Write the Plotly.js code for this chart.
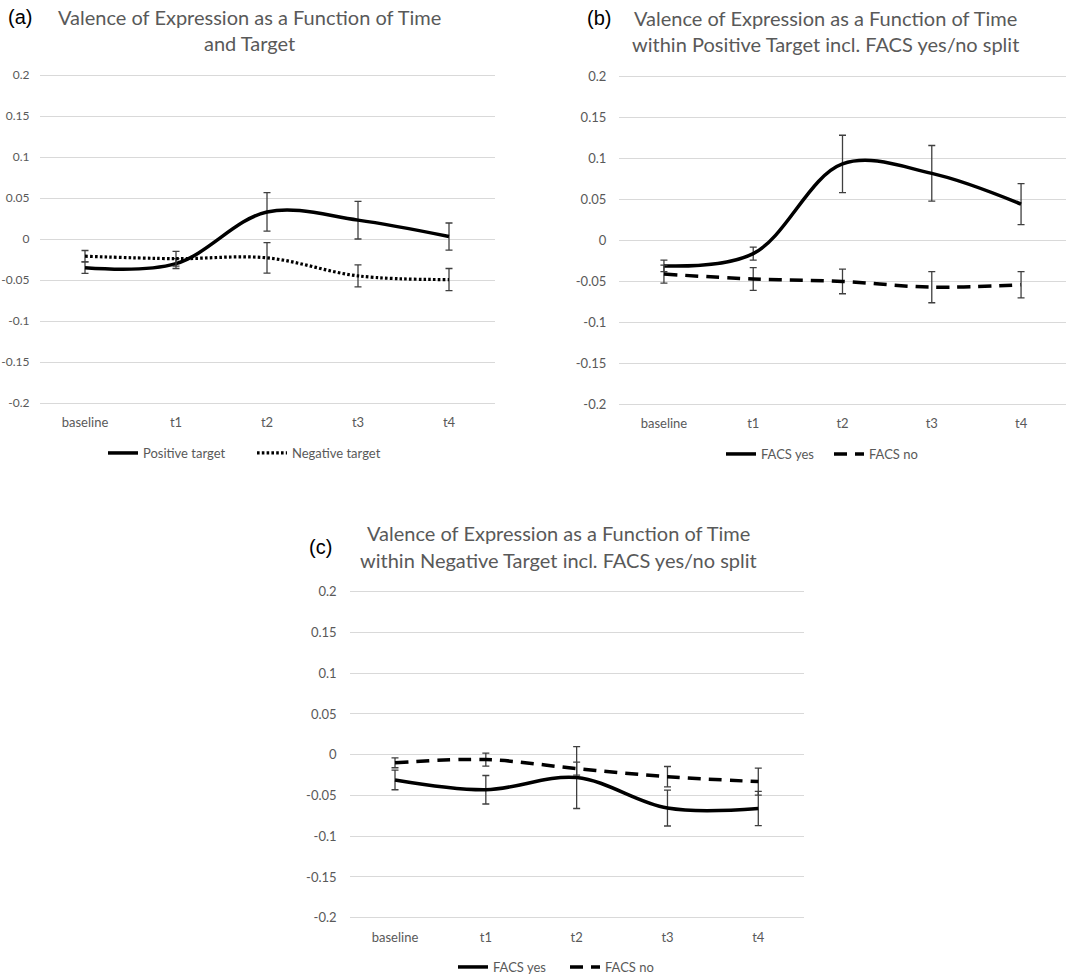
<!DOCTYPE html>
<html>
<head>
<meta charset="utf-8">
<script src="https://cdn.plot.ly/plotly-3.0.1.min.js"></script>
<style>
  html, body { margin: 0; padding: 0; background: #ffffff; }
  #chart { width: 1072px; height: 975px; }
</style>
</head>
<body>
<div id="chart"></div>
<script>
// ---------- data ----------
const categories = ['baseline', 't1', 't2', 't3', 't4'];
const yTickVals = [-0.2, -0.15, -0.1, -0.05, 0, 0.05, 0.1, 0.15, 0.2];
const yTickText = ['-0.2', '-0.15', '-0.1', '-0.05', '0', '0.05', '0.1', '0.15', '0.2'];

// (a) Valence by time and target
const positiveTarget    = [-0.035, -0.030, 0.033, 0.023, 0.003];
const positiveTargetErr = [0.007, 0.006, 0.0235, 0.023, 0.0165];
const negativeTarget    = [-0.021, -0.024, -0.023, -0.045, -0.0495];
const negativeTargetErr = [0.007, 0.009, 0.0185, 0.0135, 0.0135];

// (b) within positive target, FACS split
const posFacsYes    = [-0.031, -0.016, 0.0935, 0.082, 0.0445];
const posFacsYesErr = [0.007, 0.008, 0.035, 0.034, 0.025];
const posFacsNo     = [-0.041, -0.047, -0.050, -0.057, -0.054];
const posFacsNoErr  = [0.011, 0.014, 0.015, 0.019, 0.016];

// (c) within negative target, FACS split
const negFacsYes    = [-0.031, -0.043, -0.028, -0.0655, -0.066];
const negFacsYesErr = [0.012, 0.0175, 0.038, 0.022, 0.021];
const negFacsNo     = [-0.010, -0.006, -0.017, -0.027, -0.033];
const negFacsNoErr  = [0.006, 0.008, 0.008, 0.0125, 0.0165];

const seriesNames = {
  pos: 'Positive target', neg: 'Negative target',
  yes: 'FACS yes', no: 'FACS no'
};
const titles = {
  a: ['Valence of Expression as a Function of Time', 'and Target'],
  b: ['Valence of Expression as a Function of Time', 'within Positive Target incl. FACS yes/no split'],
  c: ['Valence of Expression as a Function of Time', 'within Negative Target incl. FACS yes/no split']
};

// ---------- styling ----------
const W = 1072, H = 975;
const px = x => x / W;
const py = y => 1 - y / H;
const GRAY = '#595959';
const GRID = '#d9d9d9';
const FONT = 'Lato, "Noto Sans", sans-serif';
const ERRC = '#3f3f3f';

function trace(y, err, name, dash, width, xa, ya, leg) {
  return {
    type: 'scatter', mode: 'lines',
    x: categories, y: y, name: name,
    xaxis: xa, yaxis: ya, legend: leg,
    line: { color: '#000000', width: width, shape: 'spline', smoothing: 1, dash: dash },
    error_y: { type: 'data', array: err, visible: true, color: ERRC, thickness: 1.3, width: 3.5 },
    hoverinfo: 'skip'
  };
}

const data = [
  trace(positiveTarget, positiveTargetErr, seriesNames.pos, 'solid', 3.5, 'x', 'y', 'legend'),
  trace(negativeTarget, negativeTargetErr, seriesNames.neg, '2.6px,2.2px', 3.2, 'x', 'y', 'legend'),
  trace(posFacsYes, posFacsYesErr, seriesNames.yes, 'solid', 3.5, 'x2', 'y2', 'legend2'),
  trace(posFacsNo, posFacsNoErr, seriesNames.no, '13px,8px', 3.5, 'x2', 'y2', 'legend2'),
  trace(negFacsYes, negFacsYesErr, seriesNames.yes, 'solid', 3.5, 'x3', 'y3', 'legend3'),
  trace(negFacsNo, negFacsNoErr, seriesNames.no, '13px,8px', 3.5, 'x3', 'y3', 'legend3')
];

function xaxis(domL, domR) {
  return {
    domain: [px(domL), px(domR)], type: 'category', range: [-0.5, 4.5],
    showgrid: false, zeroline: false, showline: false, ticks: '',
    ticklabelstandoff: 6,
    tickfont: { family: FONT, size: 13, color: GRAY }, fixedrange: true
  };
}
function yaxis(topPx, botPx, anchor, standoff, fsize) {
  return {
    domain: [py(botPx), py(topPx)], range: [-0.205, 0.205],
    tickvals: yTickVals, ticktext: yTickText,
    showgrid: true, gridcolor: GRID, gridwidth: 1,
    zeroline: false, showline: false, ticks: '',
    ticklabelstandoff: standoff,
    tickfont: { family: FONT, size: fsize, color: GRAY }, fixedrange: true, anchor: anchor
  };
}
function legend(leftX, cy, entryW) {
  return {
    orientation: 'h', x: px(leftX), xanchor: 'left', y: py(cy), yanchor: 'middle',
    font: { family: FONT, size: 13, color: GRAY }, bgcolor: 'rgba(0,0,0,0)',
    itemwidth: 30, traceorder: 'normal',
    entrywidth: entryW, entrywidthmode: 'pixels'
  };
}
function titleAnn(text, cx, cy) {
  return { text: text, xref: 'paper', yref: 'paper', x: px(cx), y: py(cy),
    xanchor: 'center', yanchor: 'middle', showarrow: false,
    font: { family: FONT, size: 20, color: GRAY } };
}
function panelAnn(text, cx, cy) {
  return { text: text, xref: 'paper', yref: 'paper', x: px(cx), y: py(cy),
    xanchor: 'center', yanchor: 'middle', showarrow: false,
    font: { family: '"Liberation Sans", Arial, sans-serif', size: 20, color: '#000000' } };
}

const layout = {
  width: W, height: H,
  margin: { l: 0, r: 0, t: 0, b: 0, autoexpand: false },
  paper_bgcolor: '#ffffff', plot_bgcolor: '#ffffff',
  showlegend: true,
  xaxis: Object.assign(xaxis(39.5, 494.5), { anchor: 'y' }),
  yaxis: yaxis(70.9, 407.1, 'x', 9, 12),
  xaxis2: Object.assign(xaxis(619.3, 1065.7), { anchor: 'y2' }),
  yaxis2: yaxis(72.6, 408.4, 'x2', 12, 13),
  xaxis3: Object.assign(xaxis(349.6, 803.7), { anchor: 'y3' }),
  yaxis3: yaxis(587.6, 921.8, 'x3', 12, 13),
  legend: legend(103, 453, 104),
  legend2: legend(721, 454, 63),
  legend3: legend(453, 967, 67),
  annotations: [
    titleAnn(titles.a[0], 249.5, 17), titleAnn(titles.a[1], 249.5, 43),
    titleAnn(titles.b[0], 825, 18), titleAnn(titles.b[1], 825, 44),
    titleAnn(titles.c[0], 558, 533), titleAnn(titles.c[1], 558, 560),
    panelAnn('(a)', 20, 17), panelAnn('(b)', 599, 18), panelAnn('(c)', 320, 547)
  ]
};

Plotly.newPlot('chart', data, layout, { displayModeBar: false, staticPlot: true });
</script>
</body>
</html>
